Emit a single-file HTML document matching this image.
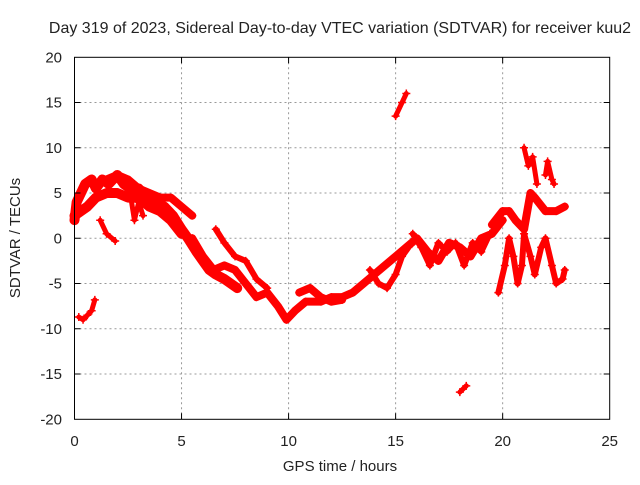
<!DOCTYPE html>
<html><head><meta charset="utf-8"><style>
body{margin:0;background:#fff}
svg text{font-family:"Liberation Sans",sans-serif;font-size:15px;fill:#222}
</style></head><body>
<svg id="chart" width="640" height="480">
<rect width="640" height="480" fill="#fff"/>
<text x="340" y="33" text-anchor="middle" style="font-size:16px">Day 319 of 2023, Sidereal Day-to-day VTEC variation (SDTVAR) for receiver kuu2</text>
<g id="grid"></g><g id="marks"></g><g id="axes"></g>
<text x="340" y="471" text-anchor="middle">GPS time / hours</text>
<text transform="translate(20,238) rotate(-90)" text-anchor="middle">SDTVAR / TECUs</text>
</svg>
<script>
const xTicks=[0,5,10,15,20,25];
const yTicks=[-20,-15,-10,-5,0,5,10,15,20];
const seriesMainT=[0,0.1,0.3,0.5,0.8,1,1.3,1.6,2,2.3,2.6,3,3.4,3.8,4.2,4.6,5,5.3,5.7,6,6.3,6.6,7,7.3,7.6];
const seriesMainV=[2,4,5,6,6.5,5.5,6.5,6,7,6,5.5,5.5,4.5,4,3.5,2.5,1,0,-1.5,-2.5,-3.5,-4,-4.5,-5,-5.5];
const seriesLowerEdgeT=[0,0.3,0.6,1,1.5,2,2.5,3,3.5,4,4.5,5];
const seriesLowerEdgeV=[2.5,3,3.5,4.5,5,5,4.5,4.5,3.5,3,2,0.5];
const seriesBand2T=[1.5,2,2.5,3,3.5,4,4.5,5,5.5];
const seriesBand2V=[6.5,7,6.5,5.5,5,4.5,4.5,3.5,2.5];
const seriesFingerT=[2.6,2.8,3,3.2];
const seriesFingerV=[5,2,4,2.5];
const seriesLoopT=[1.2,1.5,1.9];
const seriesLoopV=[2,0.5,-0.3];
const seriesDipT=[0.2,0.4,0.6,0.8,0.95];
const seriesDipV=[-8.7,-9,-8.5,-8,-6.8];
const seriesMidT=[5.5,6,6.5,7,7.5,8,8.5,9,9.5,9.9,10.3,10.8,11.5,12,12.5,13,13.5,14,14.5,15,15.5,16,16.5,17,17.5,18,18.5,19,19.5,20];
const seriesMidV=[0,-2,-3.5,-3,-3.5,-5,-6.5,-6,-7.5,-9,-8,-7,-7,-6.5,-6.5,-6,-5,-4,-3,-2,-1,0,-1.5,-2.5,-0.5,-1,-2,0,0.5,2];
const seriesWiggleT=[15.8,16.2,16.6,17,17.4,17.8,18.2,18.6,19,19.4];
const seriesWiggleV=[0.5,-1,-3,-0.5,-1.5,-0.5,-3,-0.5,-1.5,0.5];
const seriesUpperT=[6.6,7,7.5,8,8.5,9];
const seriesUpperV=[1,-0.5,-2,-2.5,-4.5,-5.5];
const seriesLowT=[10.5,11,11.5,12,12.5];
const seriesLowV=[-6,-5.5,-6.5,-7,-6.8];
const seriesLoop2T=[13.8,14.2,14.6,15,15.3,15.6];
const seriesLoop2V=[-3.5,-5,-5.5,-4,-2,-1];
const seriesHighT=[15,15.3,15.5];
const seriesHighV=[13.5,15,16];
const seriesBottomT=[18,18.3];
const seriesBottomV=[-17,-16.3];
const seriesRightT=[19.8,20.1,20.3,20.5,20.7,20.9,21,21.3,21.5,21.8,22,22.3,22.5,22.8,22.9];
const seriesRightV=[-6,-3,0,-2,-5,-3,0.5,-2,-4,-1,0,-3,-5,-4.5,-3.5];
const seriesRightUpT=[19.5,20,20.3,20.6,21,21.3,21.5,22,22.5,22.9];
const seriesRightUpV=[1.5,3,3,2,1,5,4.5,3,3,3.5];
const seriesSpikeT=[21,21.2,21.4,21.6];
const seriesSpikeV=[10,8,9,6];
const seriesSpike2T=[22,22.1,22.3,22.4];
const seriesSpike2V=[7,8.5,6.5,6];
const X=t=>74.5+t*(609.7-74.5)/25;
const Y=v=>57.3+(20-v)*(419.3-57.3)/40;
const NS='http://www.w3.org/2000/svg';
const grid=document.getElementById('grid'),axes=document.getElementById('axes'),marks=document.getElementById('marks');
function mk(tag,attrs,parent){const e=document.createElementNS(NS,tag);for(const k in attrs)e.setAttribute(k,attrs[k]);parent.appendChild(e);return e;}
xTicks.forEach(t=>{
 if(t>0&&t<25){const g=mk('line',{x1:X(t),x2:X(t),y1:Y(-20),y2:Y(20),stroke:'#999','stroke-dasharray':'2,3'},grid);
 
 
 mk('path',{d:`M${X(t)},${Y(-20)}v-6M${X(t)},${Y(20)}v6`,stroke:'#000'},axes);}
 const tx=mk('text',{x:X(t),y:446,'text-anchor':'middle'},axes);tx.textContent=t;
 
 
});
yTicks.forEach(v=>{
 if(v>-20&&v<20){const g=mk('line',{x1:X(0),x2:X(25),y1:Y(v),y2:Y(v),stroke:'#999','stroke-dasharray':'2,3'},grid);
 
 
 mk('path',{d:`M${X(0)},${Y(v)}h6M${X(25)},${Y(v)}h-6`,stroke:'#000'},axes);}
 const tx=mk('text',{x:62,y:Y(v)+5,'text-anchor':'end'},axes);tx.textContent=v;
 
 
});
const frame=mk('rect',{x:X(0),y:Y(20),width:X(25)-X(0),height:Y(-20)-Y(20),fill:'none',stroke:'#000'},axes);


const all=[[seriesMainT,seriesMainV,10],[seriesLowerEdgeT,seriesLowerEdgeV,10],[seriesBand2T,seriesBand2V,8],[seriesFingerT,seriesFingerV,5],[seriesLoopT,seriesLoopV,5],[seriesDipT,seriesDipV,5],[seriesMidT,seriesMidV,8],[seriesWiggleT,seriesWiggleV,6],[seriesUpperT,seriesUpperV,6],[seriesLowT,seriesLowV,8],[seriesLoop2T,seriesLoop2V,6],[seriesHighT,seriesHighV,5],[seriesBottomT,seriesBottomV,5],[seriesRightT,seriesRightV,6],[seriesRightUpT,seriesRightUpV,8],[seriesSpikeT,seriesSpikeV,5],[seriesSpike2T,seriesSpike2V,5]];
all.forEach(([ts,vs,w])=>{
 const p=mk('polyline',{points:ts.map((t,i)=>X(t)+','+Y(vs[i])).join(' '),fill:'none',stroke:'#f00','stroke-width':w,'stroke-linejoin':'round','stroke-linecap':'round'},marks);
 
 
 ts.forEach((t,i)=>{
  const m=mk('path',{d:`M${X(t)-4},${Y(vs[i])}h8M${X(t)},${Y(vs[i])-4}v8`,stroke:'#f00','stroke-width':1.5},marks);
  
  
 });
});
</script>
</body></html>
